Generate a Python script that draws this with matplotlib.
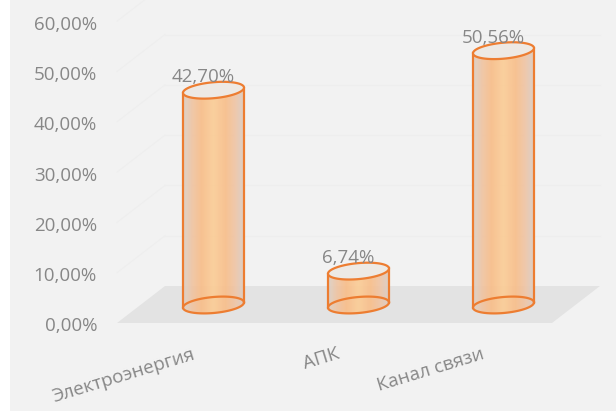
import numpy as np
import matplotlib
matplotlib.use("Agg")
import matplotlib.pyplot as plt
from matplotlib.patches import Polygon, Rectangle
from matplotlib.colors import LinearSegmentedColormap

categories = ["Электроэнергия", "АПК", "Канал связи"]
values = [42.70, 6.74, 50.56]
value_labels = ["42,70%", "6,74%", "50,56%"]
tick_values = [0, 10, 20, 30, 40, 50, 60]
tick_labels = ["0,00%", "10,00%", "20,00%", "30,00%", "40,00%", "50,00%", "60,00%"]

W, H = 616, 414
PX_X = 145.0      # pixels per category unit
PX_Y = 5.03       # pixels per percent
X0 = 213.5        # pixel x of first category
Y0 = 306.0        # pixel y of value 0 (bar base, mid depth)

def dx(px):
    return px / PX_X

def dy(px):
    return px / PX_Y

fig = plt.figure(figsize=(W / 100, H / 100), dpi=100)
fig.patch.set_facecolor("white")
ax = fig.add_axes([0, 0, 1, 1])
ax.set_xlim(-X0 / PX_X, (W - X0) / PX_X)
ax.set_ylim((Y0 - H) / PX_Y, Y0 / PX_Y)
ax.axis("off")
ax.add_patch(Rectangle((10 / W, 2 / H), 1 - 10 / W, 1 - 2 / H,
                       transform=ax.transAxes, facecolor="#f2f2f2",
                       edgecolor="none", zorder=0))

font = "Open Sans"
gray = "#878787"
orange = "#ed7d31"
FS = 13.5

front_y = dy(Y0 - 324)
back_y = dy(Y0 - 287)
fl_x0, fl_x1 = dx(117 - X0), dx(552 - X0)
bk_x0, bk_x1 = dx(165 - X0), dx(600 - X0)

# back wall & side wall gridlines (very faint)
for v in tick_values[1:]:
    ax.plot([bk_x0, bk_x1], [back_y + v, back_y + v], color="#eeeeee", lw=0.8, zorder=1)
    ax.plot([fl_x0, bk_x0], [front_y + v, back_y + v], color="#eeeeee", lw=0.8, zorder=1)

# floor
ax.add_patch(Polygon([[fl_x0, front_y], [fl_x1, front_y], [bk_x1, back_y], [bk_x0, back_y]],
                     closed=True, facecolor="#e3e3e3", edgecolor="none", zorder=2))

# y tick labels (front plane)
for v, lab in zip(tick_values, tick_labels):
    ax.text(dx(97 - X0), v + front_y - dy(2.5), lab, ha="right", va="center",
            fontsize=FS, color=gray, family=font, zorder=5)

cmap = LinearSegmentedColormap.from_list("cyl", [
    (0.0, "#dcd0c6"), (0.15, "#efc4a2"), (0.3, "#f8bd89"), (0.5, "#fbcd97"),
    (0.7, "#f8be8a"), (0.86, "#efc5a6"), (1.0, "#dacdc4")])
grad = np.linspace(0, 1, 256).reshape(1, -1)

a = dx(30.5)
b = dy(8.0)
k = dy(2.6)

def ell(cx, cy, t):
    return cx + a * np.cos(t), cy + b * np.sin(t) + k * np.cos(t)

for i, v in enumerate(values):
    cx = float(i)
    t1 = np.linspace(np.pi, 2 * np.pi, 60)
    t2 = np.linspace(0, np.pi, 60)
    bx, by = ell(cx, 0.0, t1)
    tx, ty = ell(cx, v, t2)
    pts = np.column_stack([np.concatenate([bx, tx]), np.concatenate([by, ty])])
    body = Polygon(pts, closed=True, facecolor="none", edgecolor="none", zorder=3)
    ax.add_patch(body)
    im = ax.imshow(grad, cmap=cmap, aspect="auto", alpha=0.92,
                   extent=[cx - a, cx + a, -b - k - 1, v + b + k + 1], zorder=3,
                   interpolation="bilinear")
    im.set_clip_path(body)
    tt = np.linspace(0, 2 * np.pi, 120)
    ex, ey = ell(cx, 0.0, tt)
    ax.plot(ex, ey, color=orange, lw=1.6, zorder=4)
    ax.plot([cx - a, cx - a], [-k, v - k], color=orange, lw=1.6, zorder=4)
    ax.plot([cx + a, cx + a], [k, v + k], color=orange, lw=1.6, zorder=4)
    ex, ey = ell(cx, v, tt)
    ax.fill(ex, ey, facecolor="#ede9e4", edgecolor=orange, lw=1.6, zorder=4)
    ax.text(cx - dx(10), v + dy(9), value_labels[i], ha="center", va="baseline",
            fontsize=FS, color=gray, family=font, zorder=5)
    ax.text(cx - dx(22), dy(Y0 - 345), categories[i], ha="right", va="top",
            rotation=17, rotation_mode="anchor", fontsize=FS, color=gray,
            family=font, zorder=5)

ax.set_xlim(-X0 / PX_X, (W - X0) / PX_X)
ax.set_ylim((Y0 - H) / PX_Y, Y0 / PX_Y)
fig.savefig("out.png", dpi=100, facecolor=fig.get_facecolor())
